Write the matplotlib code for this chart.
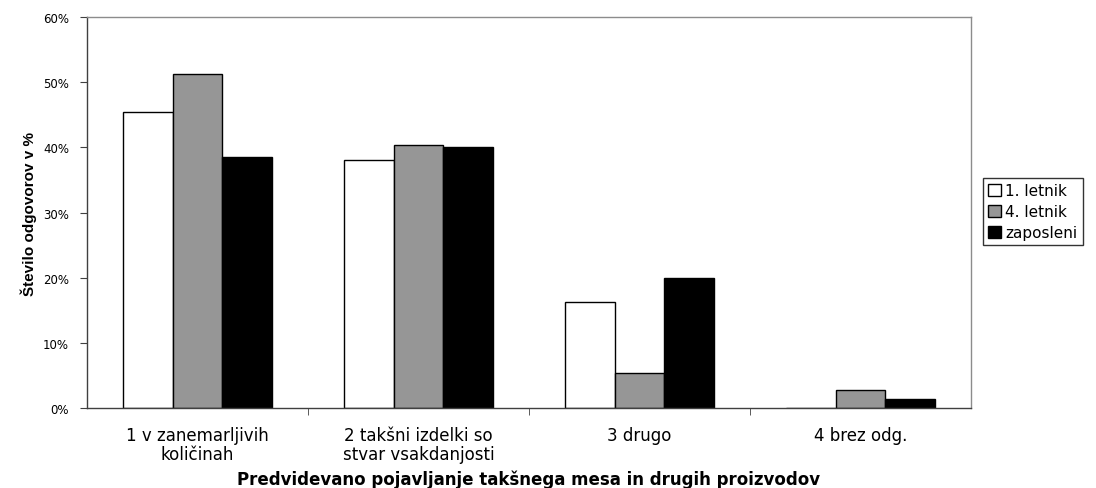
import numpy as np
import matplotlib.pyplot as plt

plt.rcParams['font.family'] = ['DejaVu Sans']

categories = ["1 v zanemarljivih\nkoličinah", "2 takšni izdelki so\nstvar vsakdanjosti",
              "3 drugo", "4 brez odg."]
series_names = ["1. letnik", "4. letnik", "zaposleni"]
letnik1 = [45.4, 38.1, 16.3, 0.0]
letnik4 = [51.3, 40.4, 5.3, 2.7]
zaposleni = [38.5, 40.0, 20.0, 1.4]
colors = ["#ffffff", "#969696", "#000000"]

fig = plt.figure(figsize=(10.96, 4.89), dpi=100)
ax = fig.add_axes([0.0794, 0.1636, 0.8066, 0.7994])

x = np.arange(len(categories))
w = 0.224
for i, (vals, c) in enumerate(zip([letnik1, letnik4, zaposleni], colors)):
    ax.bar(x + (i - 1) * w, vals, w, color=c, edgecolor="black", linewidth=1.0,
           label=series_names[i], zorder=2)

ax.set_xlim(-0.5, len(categories) - 0.5)
ax.set_ylim(0, 60)
ax.set_yticks(range(0, 61, 10))
ax.set_yticklabels([f"{v}%" for v in range(0, 61, 10)], fontsize=8.5)
ax.set_xticks(x)
ax.set_xticklabels(categories, fontsize=12, linespacing=1.05)
ax.tick_params(axis='x', length=0, pad=13)
ax.set_xticks(np.arange(0.5, len(categories) - 1, 1), minor=True)
ax.tick_params(axis='x', which='minor', length=5, direction='out', color='#404040')
ax.tick_params(axis='y', length=5, direction='out', color='#404040', pad=8)

ax.spines['left'].set_color('#404040')
ax.spines['bottom'].set_color('#404040')
ax.spines['top'].set_color('#8c8c8c')
ax.spines['right'].set_color('#8c8c8c')
for s in ax.spines.values():
    s.set_linewidth(1.0)

ax.set_ylabel("Število odgovorov v %", fontsize=11, fontweight='bold', labelpad=4,
              family=['Liberation Sans', 'DejaVu Sans'])
ax.set_xlabel("Predvidevano pojavljanje takšnega mesa in drugih proizvodov",
              fontsize=12, fontweight='bold', va='baseline')
ax.xaxis.set_label_coords(0.5, -0.194)

leg = ax.legend(loc='upper left', bbox_to_anchor=(1.0136, 0.588), fontsize=11,
                frameon=True, fancybox=False, edgecolor='black',
                handlelength=0.8, handleheight=0.8, handletextpad=0.3,
                labelspacing=0.38, borderpad=0.35, borderaxespad=0)
leg.get_frame().set_linewidth(1.0)

fig.savefig("out.png", dpi=100)
